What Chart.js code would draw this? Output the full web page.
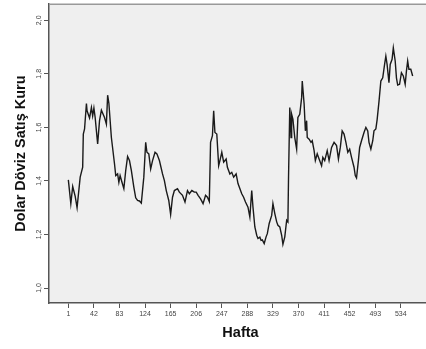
<!DOCTYPE html>
<html>
<head>
<meta charset="utf-8">
<script src="https://cdn.jsdelivr.net/npm/chart.js@4"></script>
<style>
html,body{margin:0;padding:0;background:#fff;overflow:hidden;width:426px;height:349px;}
canvas{display:block;}
</style>
</head>
<body>
<canvas id="c" width="434" height="349"></canvas>
<script>
const weeks = [1,5,8,12,15,20,24,25,27,30,31,35,38,40,42,44,48,51,54,59,62,64,66,70,75,77,80,82,84,87,90,93,96,99,102,106,109,112,115,118,122,125,127,130,133,136,140,143,147,152,155,158,162,165,168,171,176,179,184,188,192,195,199,203,206,209,213,217,221,224,227,229,232,234,236,239,242,244,247,250,254,256,260,263,266,270,273,279,282,285,289,292,295,297,300,303,305,308,310,312,315,318,320,323,327,329,332,335,337,340,343,345,348,351,353,354,356,358,359,361,364,367,369,372,375,376,379,381,383,384,387,390,392,395,397,400,403,407,409,412,416,419,423,427,431,434,437,440,443,446,449,452,455,459,461,463,466,468,471,475,478,481,483,486,489,491,494,496,499,502,505,508,510,512,515,517,520,522,525,527,529,532,535,538,541,543,545,547,550,553];
const rate = [1.404,1.315,1.379,1.342,1.300,1.414,1.451,1.575,1.594,1.689,1.662,1.635,1.674,1.643,1.672,1.637,1.538,1.625,1.664,1.637,1.612,1.720,1.690,1.562,1.464,1.420,1.426,1.395,1.420,1.395,1.371,1.439,1.491,1.476,1.439,1.377,1.337,1.327,1.325,1.317,1.414,1.544,1.507,1.501,1.445,1.476,1.507,1.501,1.476,1.426,1.401,1.364,1.327,1.275,1.339,1.364,1.371,1.358,1.346,1.321,1.364,1.352,1.364,1.358,1.358,1.346,1.333,1.315,1.346,1.339,1.323,1.544,1.569,1.662,1.581,1.575,1.457,1.476,1.507,1.470,1.482,1.451,1.426,1.432,1.414,1.426,1.390,1.352,1.339,1.321,1.302,1.265,1.364,1.302,1.228,1.197,1.185,1.190,1.178,1.180,1.166,1.191,1.203,1.241,1.271,1.315,1.278,1.247,1.234,1.228,1.197,1.163,1.191,1.253,1.247,1.414,1.674,1.562,1.649,1.631,1.562,1.519,1.637,1.649,1.711,1.773,1.687,1.587,1.625,1.562,1.556,1.544,1.550,1.513,1.476,1.501,1.482,1.457,1.488,1.476,1.513,1.476,1.525,1.544,1.532,1.482,1.525,1.587,1.575,1.544,1.507,1.519,1.488,1.451,1.420,1.411,1.476,1.525,1.550,1.581,1.600,1.587,1.544,1.519,1.550,1.587,1.594,1.628,1.696,1.773,1.785,1.835,1.866,1.835,1.767,1.835,1.854,1.897,1.848,1.785,1.758,1.761,1.804,1.792,1.761,1.810,1.848,1.817,1.817,1.792];
const xTicks = [1,42,83,124,165,206,247,288,329,370,411,452,493,534];
const yTicks = [1.0,1.2,1.4,1.6,1.8,2.0];

const bgPlugin = {
  id: 'bg',
  beforeDraw(chart) {
    const {ctx, chartArea: a} = chart;
    ctx.save();
    ctx.fillStyle = '#efefef';
    ctx.fillRect(a.left, a.top, a.right - a.left, a.bottom - a.top);
    ctx.restore();
  },
  afterDraw(chart) {
    const {ctx, chartArea: a} = chart;
    ctx.save();
    ctx.strokeStyle = '#999';
    ctx.lineWidth = 1.5;
    ctx.beginPath();
    ctx.moveTo(a.left, a.top);
    ctx.lineTo(a.right, a.top);
    ctx.stroke();
    ctx.restore();
  }
};

new Chart(document.getElementById('c'), {
  type: 'line',
  data: {
    datasets: [{
      data: weeks.map((w, i) => ({x: w, y: rate[i]})),
      borderColor: '#1a1a1a',
      borderWidth: 1.4,
      pointRadius: 0,
      tension: 0,
      fill: false
    }]
  },
  options: {
    responsive: false,
    animation: false,
    devicePixelRatio: 1,
    layout: {padding: {top: 3, right: 2, left: 0, bottom: 0}},
    plugins: {legend: {display: false}, tooltip: {enabled: false}},
    scales: {
      x: {
        type: 'linear',
        min: -30, max: 584,
        afterBuildTicks: s => { s.ticks = xTicks.map(v => ({value: v})); },
        afterFit: s => { s.height = 46; },
        grid: {drawOnChartArea: false, drawTicks: true, tickLength: 5, tickColor: '#555', tickWidth: 1},
        border: {display: true, color: '#555', width: 1.5},
        ticks: {
          autoSkip: false, maxRotation: 0, padding: 2,
          color: '#444',
          font: {family: 'Liberation Sans, Arial', size: 7},
          callback: v => String(v)
        },
        title: {
          display: true, text: 'Hafta', color: '#111',
          font: {family: 'Liberation Sans, Arial', size: 14.5, weight: 'bold'},
          padding: {top: 0, bottom: 7.5}
        }
      },
      y: {
        type: 'linear',
        min: 0.944, max: 2.06,
        afterBuildTicks: s => { s.ticks = yTicks.map(v => ({value: v})); },
        afterFit: s => { s.width = 49; },
        grid: {drawOnChartArea: false, drawTicks: true, tickLength: 5, tickColor: '#555', tickWidth: 1},
        border: {display: true, color: '#555', width: 1.5},
        ticks: {
          autoSkip: false, minRotation: 90, maxRotation: 90, padding: 0,
          crossAlign: 'center',
          color: '#444',
          font: {family: 'Liberation Sans, Arial', size: 7},
          callback: v => v.toFixed(1).replace('.', ',')
        },
        title: {
          display: true, text: 'Dolar Döviz Satış Kuru', color: '#111',
          font: {family: 'Liberation Sans, Arial', size: 14.5, weight: 'bold'},
          padding: {top: 12, bottom: 0}
        }
      }
    }
  },
  plugins: [bgPlugin]
});
</script>
</body>
</html>
